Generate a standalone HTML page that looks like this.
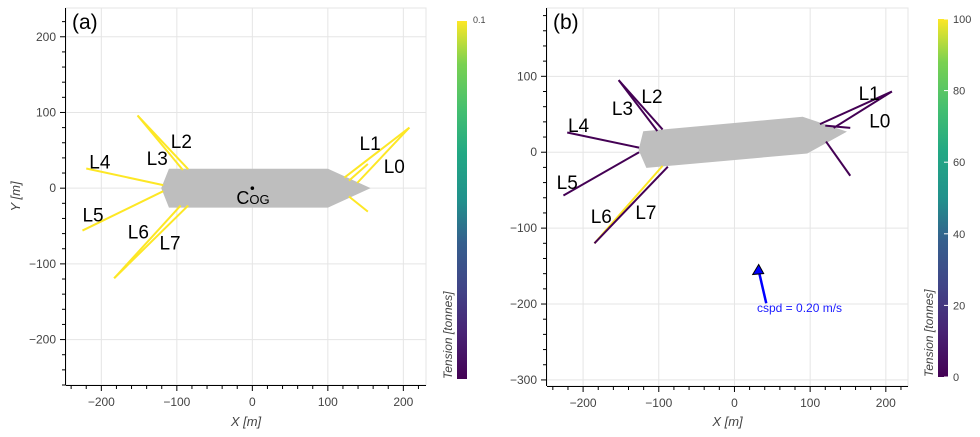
<!DOCTYPE html>
<html><head><meta charset="utf-8">
<style>
body{margin:0;background:#fff;width:980px;height:437px;overflow:hidden;font-family:"Liberation Sans",sans-serif}
svg{position:absolute;left:0;top:0}
</style></head>
<body>
<svg id="s" width="980" height="437" xmlns="http://www.w3.org/2000/svg">
<defs>
<linearGradient id="vir" x1="0" y1="1" x2="0" y2="0">
<stop offset="0" stop-color="#440154"/><stop offset="0.13" stop-color="#482475"/>
<stop offset="0.25" stop-color="#414487"/><stop offset="0.38" stop-color="#355f8d"/>
<stop offset="0.5" stop-color="#21918c"/><stop offset="0.63" stop-color="#22a884"/>
<stop offset="0.75" stop-color="#44bf70"/><stop offset="0.88" stop-color="#7ad151"/>
<stop offset="1" stop-color="#fde725"/></linearGradient>
</defs>
</svg>
<script>
// ---- data ----
const xTicks=[-200,-100,0,100,200];
const yTicksA=[-200,-100,0,100,200];
const yTicksB=[-300,-200,-100,0,100];
const shipA=[[-120,0],[-110,25],[100,25],[155,0],[100,-25],[-110,-25]];
const shipB=[[-126,3],[-120,27],[90,46],[147,27],[96,-1],[-116,-20]];
const linesA=[[-118,4,-220,26],[-118,-4,-225,-56],[-92,24,-152,96],[-85,25,-152,96],[-95,-23,-183,-119],[-85,-23,-183,-119],[122,14,208,80],[139,7,208,80],[128,10,153,32],[128,-11,153,-31]];
const tensA=[0.1,0.1,0.1,0.1,0.1,0.1,0.1,0.1,0.1,0.1];
const linesB=[[-126,6,-221,26],[-126,0,-226,-57],[-95,30,-153,95],[-102,28,-153,95],[-95,-18,-185,-120],[-88,-19,-185,-120],[113,37,208,80],[131,32,208,80],[120,35,153,32],[121,14,153,-31]];
const tensB=[1,1,1,1,100,1,1,1,1,1];
const labelsA=[["L0",188,29],["L1",156,60],["L2",-94,62],["L3",-126,40],["L4",-202,35],["L5",-211,-35],["L6",-151,-57],["L7",-109,-72]];
const labelsB=[["L0",192,42],["L1",178,78],["L2",-109,74],["L3",-148,58],["L4",-206,36],["L5",-221,-39],["L6",-176,-84],["L7",-117,-79]];
const cbTicksB=[0,20,40,60,80,100];
const current=[42,-199,32,-148];

const S=document.getElementById('s');const NS='http://www.w3.org/2000/svg';
function mk(t,a,p){const e=document.createElementNS(NS,t);for(const k in a)e.setAttribute(k,a[k]);(p||S).appendChild(e);return e;}
function vcol(v,max){const st=[[0,'#440154'],[.13,'#482475'],[.25,'#414487'],[.38,'#355f8d'],[.5,'#21918c'],[.63,'#22a884'],[.75,'#44bf70'],[.88,'#7ad151'],[1,'#fde725']];const t=Math.max(0,Math.min(1,v/max));for(let i=1;i<st.length;i++){if(t<=st[i][0])return t-st[i-1][0]<st[i][0]-t?st[i-1][1]:st[i][1];}return '#fde725';}

function panel(P){
 const sx=v=>P.x0+(v-P.xmin)/(P.xmax-P.xmin)*(P.x1-P.x0);
 const sy=v=>P.y1-(v-P.ymin)/(P.ymax-P.ymin)*(P.y1-P.y0);
 const g=mk('g',{});
 const grid=mk('g',{stroke:'#e5e5e5','stroke-width':1},g);
 xTicks.forEach(v=>mk('line',{x1:sx(v),x2:sx(v),y1:P.y0,y2:P.y1},grid));
 P.yt.forEach(v=>mk('line',{y1:sy(v),y2:sy(v),x1:P.x0,x2:P.x1},grid));
 mk('rect',{x:P.x0,y:P.y0,width:P.x1-P.x0,height:P.y1-P.y0,fill:'none',stroke:'#e5e5e5'},g);
 const ship=mk('polygon',{points:P.ship.map(p=>sx(p[0])+','+sy(p[1])).join(' '),fill:'#bebebe',stroke:'#bebebe'},g);
 
 P.lines.forEach((l,i)=>{const e=mk('line',{x1:sx(l[0]),y1:sy(l[1]),x2:sx(l[2]),y2:sy(l[3]),stroke:vcol(P.tens[i],P.cmax),'stroke-width':2},g);
  });
 P.labels.forEach(l=>{const t=mk('text',{x:sx(l[1]),y:sy(l[2])+7,'text-anchor':'middle','font-size':19,fill:'#000'},g);t.textContent=l[0];
  });
 // axes
 const ax=mk('g',{stroke:'#000','stroke-width':1},g);
 mk('line',{x1:P.x0,x2:P.x1,y1:P.y1+.5,y2:P.y1+.5},ax);mk('line',{x1:P.x0-.5,x2:P.x0-.5,y1:P.y0,y2:P.y1},ax);
 for(let v=-240;v<=220;v+=20){const M=v%100===0;mk('line',{x1:sx(v),x2:sx(v),y1:P.y1,y2:P.y1+(M?6:4)},ax);}
 for(let v=-300;v<=240;v+=20){if(v<P.ymin||v>P.ymax)continue;const M=v%100===0;mk('line',{y1:sy(v),y2:sy(v),x1:P.x0,x2:P.x0-(M?6:4)},ax);}
 xTicks.forEach(v=>{const t=mk('text',{x:sx(v),y:P.y1+21,'text-anchor':'middle','font-size':12,fill:'#444'},g);t.textContent=v<0?'\u2212'+(-v):v;});
 P.yt.forEach(v=>{const t=mk('text',{x:P.x0-10,y:sy(v)+4,'text-anchor':'end','font-size':12,fill:'#444'},g);t.textContent=v<0?'\u2212'+(-v):v;});
 const xt=mk('text',{x:(P.x0+P.x1)/2,y:426,'text-anchor':'middle','font-size':13,'font-style':'italic',fill:'#444'},g);xt.textContent='X [m]';
 if(P.ylab){const yt=mk('text',{x:0,y:0,transform:'translate(20,'+((P.y0+P.y1)/2)+') rotate(-90)','text-anchor':'middle','font-size':13,'font-style':'italic',fill:'#444'},g);yt.textContent='Y [m]';}
 const tl=mk('text',{x:P.x0+6,y:P.y0+21,'font-size':21,fill:'#000'},g);tl.textContent=P.title;
 // colorbar
 const cb=mk('rect',{x:P.cx,y:P.cy0,width:10,height:P.cy1-P.cy0,fill:'url(#vir)'},g);
 const ct=mk('text',{x:0,y:0,transform:'translate('+(P.cx-5)+','+(P.cy1)+') rotate(-90)','font-size':12,'font-style':'italic',fill:'#444'},g);ct.textContent='Tension [tonnes]';
 return {sx,sy,g};
}
const A=panel({name:'panel-a',x0:66,x1:426,y0:8,y1:385,xmin:-246.8,xmax:230,ymin:-260,ymax:238,yt:yTicksA,ship:shipA,lines:linesA,tens:tensA,cmax:0.1,labels:labelsA,title:'(a)',ylab:true,cx:457,cy0:21,cy1:379});
const ctA=mk('text',{x:473,y:23,'font-size':9,fill:'#444'});ctA.textContent='0.1';

// COG
const cogd=mk('circle',{cx:A.sx(0),cy:A.sy(0),r:1.8,fill:'#000'});
const cog=mk('text',{x:A.sx(0)-16,y:A.sy(0)+16,'font-size':18});cog.innerHTML='C<tspan font-size="13">OG</tspan>';


const B=panel({name:'panel-b',x0:547,x1:908,y0:8,y1:386,xmin:-247.7,xmax:229.3,ymin:-308,ymax:190,yt:yTicksB,ship:shipB,lines:linesB,tens:tensB,cmax:100,labels:labelsB,title:'(b)',ylab:false,cx:938,cy0:19,cy1:377});
cbTicksB.forEach(v=>{const y=377-v/100*(377-19);
 const tk=mk('line',{x1:944,x2:948,y1:y,y2:y,stroke:'#fff'});
 const t=mk('text',{x:953,y:y+4,'font-size':11,fill:'#444'});t.textContent=v;});
// current arrow
const ax1=B.sx(current[0]),ay1=B.sy(current[1]),ax2=B.sx(current[2]),ay2=B.sy(current[3]);
const arr=mk('line',{x1:ax1,y1:ay1,x2:ax2,y2:ay2+6,stroke:'#0000ff','stroke-width':2.5});
const hd=mk('polygon',{points:ax2+','+ay2+' '+(ax2-6)+','+(ay2+10)+' '+(ax2+5)+','+(ay2+9),fill:'#0000ff',stroke:'#000','stroke-width':1});
const cs=mk('text',{x:757,y:312,'font-size':12,fill:'#1a1aff'});cs.textContent='cspd = 0.20 m/s';
</script>
</body></html>
